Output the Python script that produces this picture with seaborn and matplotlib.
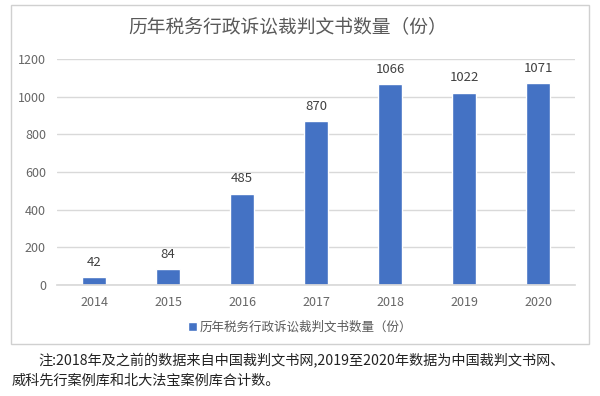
import matplotlib
matplotlib.use("Agg")
import matplotlib.pyplot as plt
import seaborn as sns
import pandas as pd
from matplotlib.patches import Rectangle

years = ["2014", "2015", "2016", "2017", "2018", "2019", "2020"]
counts = [42, 84, 485, 870, 1066, 1022, 1071]
yticks = [0, 200, 400, 600, 800, 1000, 1200]
title = "历年税务行政诉讼裁判文书数量（份）"
legend_label = "历年税务行政诉讼裁判文书数量（份）"
note1 = "注:2018年及之前的数据来自中国裁判文书网,2019至2020年数据为中国裁判文书网、"
note2 = "威科先行案例库和北大法宝案例库合计数。"

sns.set_theme(style="white")
plt.rcParams['font.family'] = ['Noto Sans CJK SC', 'DejaVu Sans']

df = pd.DataFrame({"year": years, "count": counts})

fig = plt.figure(figsize=(6, 3.96), dpi=100)
fig.patches.append(Rectangle((11/600, 1-344/396), 578/600, 339/396, transform=fig.transFigure,
                             fill=False, edgecolor="#d0d0d0", linewidth=1.0))
ax = fig.add_axes([57/600, 1-285/396, 518/600, 226/396])
sns.barplot(data=df, x="year", y="count", color="#4472C4", width=0.33, ax=ax, saturation=1,
            label=legend_label)
ax.set_ylim(0, 1200)
ax.set_yticks(yticks)
ax.grid(axis="y", color="#d9d9d9", linewidth=1)
ax.set_axisbelow(True)
for s in ["top", "right", "left"]:
    ax.spines[s].set_visible(False)
ax.spines["bottom"].set_color("#d9d9d9")
ax.tick_params(axis="both", colors="#666666", labelsize=9, length=0, pad=8)
ax.set_xlabel("")
ax.set_ylabel("")
for c in ax.containers:
    ax.bar_label(c, labels=[str(v) for v in counts], padding=6, fontsize=9.5, color="#404040")

leg = ax.legend(loc="center", bbox_to_anchor=(0.5, 1-327/396), bbox_transform=fig.transFigure,
                frameon=False, fontsize=9, handlelength=0.7, handleheight=0.7, handletextpad=0.2,
                labelcolor="#595959")

fig.text(0.48, 1-27/396, title, ha="center", va="center", fontsize=13.5, color="#595959")
fig.text(38/600, 1-361/396, note1, ha="left", va="center", fontsize=10.2, color="#222222")
fig.text(12/600, 1-381/396, note2, ha="left", va="center", fontsize=10.2, color="#222222")

fig.savefig("out.png", dpi=100)
